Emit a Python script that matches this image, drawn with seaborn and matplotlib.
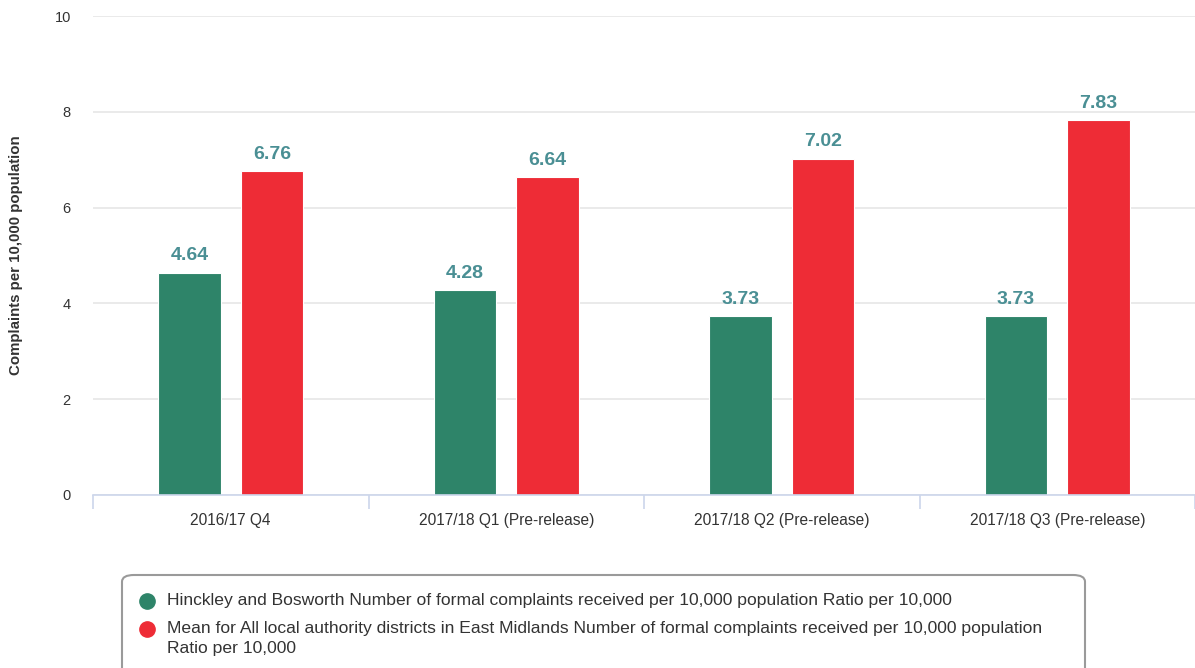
import matplotlib
matplotlib.use("Agg")
import matplotlib.pyplot as plt
from matplotlib.patches import FancyBboxPatch
from matplotlib.lines import Line2D
import seaborn as sns
import pandas as pd

# Quarterly complaint ratios
quarters = ["2016/17 Q4", "2017/18 Q1 (Pre-release)",
            "2017/18 Q2 (Pre-release)", "2017/18 Q3 (Pre-release)"]
hinckley = [4.64, 4.28, 3.73, 3.73]
east_midlands = [6.76, 6.64, 7.02, 7.83]
series_names = [
    "Hinckley and Bosworth Number of formal complaints received per 10,000 population Ratio per 10,000",
    "Mean for All local authority districts in East Midlands Number of formal complaints received per 10,000 population\nRatio per 10,000",
]
y_ticks = [0, 2, 4, 6, 8, 10]
y_label = "Complaints per 10,000 population"
colors = ["#2e8469", "#ee2c36"]

df = pd.DataFrame({
    "quarter": quarters * 2,
    "value": hinckley + east_midlands,
    "series": [series_names[0]] * 4 + [series_names[1]] * 4,
})

sns.set_theme(style="white")
plt.rcParams["font.family"] = ["Liberation Sans", "DejaVu Sans"]

W, H = 1195, 668
fig = plt.figure(figsize=(W / 100, H / 100), dpi=100)
ax = fig.add_axes([93 / W, 1 - 495 / H, (1195 - 93) / W, (495 - 16) / H])

sns.barplot(data=df, x="quarter", y="value", hue="series", palette=colors,
            width=0.6, gap=0.24, ax=ax, legend=False, saturation=1,
            edgecolor="white", linewidth=0.8, zorder=3)

for cont in ax.containers:
    ax.bar_label(cont, labels=[f"{v:.2f}" for v in cont.datavalues],
                 padding=6, color="#4a8f94", fontsize=14, fontweight="bold")

ax.set_ylim(0, 10)
ax.set_xlim(-0.5, 3.5)
ax.set_yticks(y_ticks)
ax.set_yticklabels([str(t) for t in y_ticks], fontsize=10.5, color="#333333")
ax.grid(axis="y", color="#e6e6e6", linewidth=1.2, zorder=0)
ax.grid(axis="x", visible=False)
ax.tick_params(axis="y", length=0, pad=16)
ax.tick_params(axis="x", which="major", length=0, pad=13, labelsize=11.2, labelcolor="#333333")
ax.set_xticks([-0.5, 0.5, 1.5, 2.5, 3.5], minor=True)
ax.tick_params(axis="x", which="minor", bottom=True, length=10, width=1.2,
               color="#ccd6eb", direction="out")
ax.set_xlabel("")
ax.set_ylabel(y_label, fontsize=10.8, fontweight="bold", color="#333333")
ax.yaxis.set_label_coords(-70 / (1195 - 93), 0.5)
for s in ["top", "right", "left"]:
    ax.spines[s].set_visible(False)
ax.spines["bottom"].set_color("#ccd6eb")
ax.spines["bottom"].set_linewidth(1.2)
ax.spines["bottom"].set_zorder(4)

# Legend panel drawn in figure pixels
box = FancyBboxPatch((122 / W, -0.05), (1085 - 122) / W, (1 - 575 / H) + 0.05,
                     boxstyle="round,pad=0,rounding_size=0.01",
                     transform=fig.transFigure, facecolor="white",
                     edgecolor="#9a9a9a", linewidth=1.5, clip_on=False)
fig.add_artist(box)
rows = [601, 629]
for name, col, yp in zip(series_names, colors, rows):
    fig.add_artist(Line2D([147 / W], [1 - yp / H], marker="o", markersize=11,
                          color=col, transform=fig.transFigure, linestyle="none"))
    fig.text(167 / W, 1 - (yp - 8) / H, name, fontsize=12.6, color="#333333",
             va="top", ha="left", linespacing=1.45)

fig.savefig("out.png", dpi=100)
